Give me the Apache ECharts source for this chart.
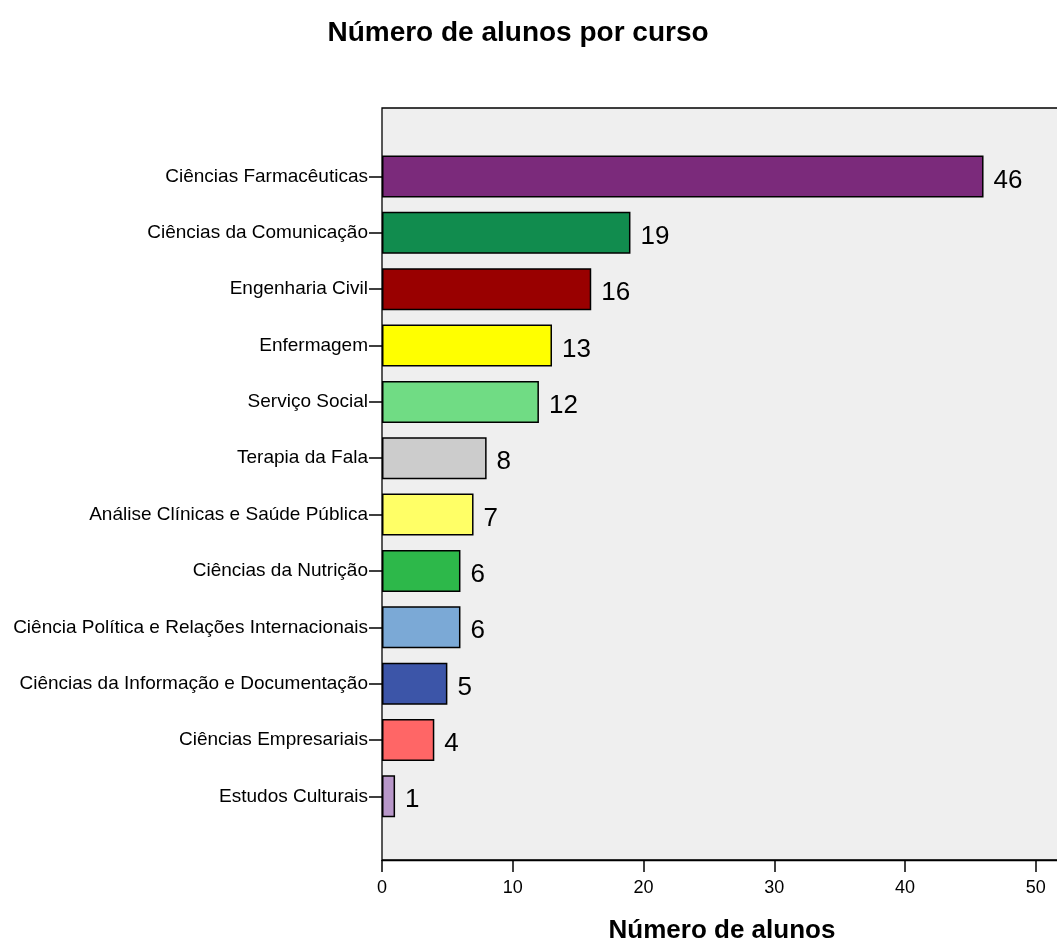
<!DOCTYPE html>
<html>
<head>
<meta charset="utf-8">
<script src="https://cdn.jsdelivr.net/npm/echarts@6/dist/echarts.min.js"></script>
<style>html,body{margin:0;padding:0;background:#fff}#c{width:1057px;height:941px}</style>
</head>
<body>
<div id="c"></div>
<script>
const categories = [
  "Ciências Farmacêuticas",
  "Ciências da Comunicação",
  "Engenharia Civil",
  "Enfermagem",
  "Serviço Social",
  "Terapia da Fala",
  "Análise Clínicas e Saúde Pública",
  "Ciências da Nutrição",
  "Ciência Política e Relações Internacionais",
  "Ciências da Informação e Documentação",
  "Ciências Empresariais",
  "Estudos Culturais"
];
const values = [46, 19, 16, 13, 12, 8, 7, 6, 6, 5, 4, 1];
const colors = ["#7B2A7B", "#118C4E", "#990000", "#FFFF00", "#70DC84", "#CCCCCC",
                "#FFFF66", "#2DB84A", "#7BA9D6", "#3C55A8", "#FF6666", "#B897C9"];
const xTicks = [0, 10, 20, 30, 40, 50];
const titleText = "Número de alunos por curso";
const xName = "Número de alunos";

const FONT = "Liberation Sans, Arial, sans-serif";
const chart = echarts.init(document.getElementById('c'));
chart.setOption({
  animation: false,
  backgroundColor: '#ffffff',
  title: {
    text: titleText, left: 513, top: 14, textAlign: 'center',
    textStyle: { fontFamily: FONT, fontSize: 28, fontWeight: 'bold', color: '#000' }
  },
  grid: [
    { left: 382, top: 108, width: 680, height: 752, show: true, backgroundColor: '#EFEFEF',
      borderColor: '#000', borderWidth: 1.3, outerBoundsMode: 'none', containLabel: false },
    { left: 382, top: 148.3, width: 680, height: 676.2, outerBoundsMode: 'none', containLabel: false }
  ],
  xAxis: [
    { gridIndex: 0, type: 'value', min: 0, max: 52, interval: 10,
      axisLine: { show: true, lineStyle: { color: '#000', width: 1.3 } },
      axisTick: { show: true, length: 12, lineStyle: { color: '#000', width: 1.5 } },
      axisLabel: { show: true, showMaxLabel: false, margin: 19, color: '#000', fontFamily: FONT, fontSize: 18,
        formatter: v => xTicks.includes(v) ? String(v) : '' },
      splitLine: { show: false },
      name: xName, nameLocation: 'middle', nameGap: 58,
      nameTextStyle: { fontFamily: FONT, fontSize: 26, fontWeight: 'bold', color: '#000' }
    },
    { gridIndex: 1, type: 'value', min: 0, max: 52, show: false }
  ],
  yAxis: [
    { gridIndex: 0, type: 'value', show: false },
    { gridIndex: 1, type: 'category', data: categories, inverse: true,
      axisLine: { show: false },
      axisTick: { show: true, alignWithLabel: true, length: 13, lineStyle: { color: '#000', width: 1.5 } },
      axisLabel: { margin: 14, color: '#000', fontFamily: FONT, fontSize: 19 }
    }
  ],
  series: [{
    type: 'bar', xAxisIndex: 1, yAxisIndex: 1,
    data: values.map((v, i) => ({ value: v, itemStyle: { color: colors[i] } })),
    barWidth: 42,
    itemStyle: { borderColor: '#000', borderWidth: 1.5 },
    label: { show: true, position: 'right', distance: 10, offset: [0, 4],
      color: '#000', fontFamily: FONT, fontSize: 26 }
  }]
});
</script>
</body>
</html>
